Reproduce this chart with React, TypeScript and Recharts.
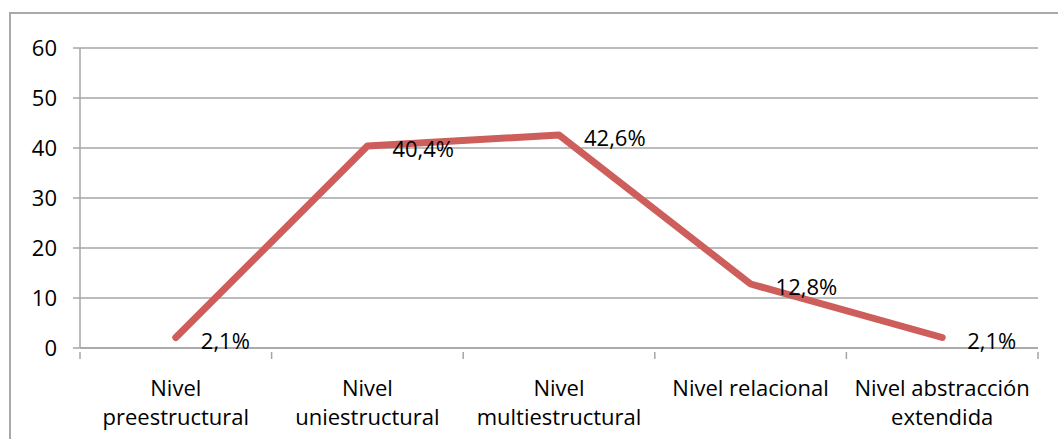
import { LineChart, Line, XAxis, YAxis, CartesianGrid, LabelList } from "recharts";

const niveles = [
  "Nivel preestructural",
  "Nivel uniestructural",
  "Nivel multiestructural",
  "Nivel relacional",
  "Nivel abstracción extendida",
];
// wrapped category labels, one array per category
const nivelLineas = [
  ["Nivel", "preestructural"],
  ["Nivel", "uniestructural"],
  ["Nivel", "multiestructural"],
  ["Nivel relacional"],
  ["Nivel abstracción", "extendida"],
];
const porcentajes = [2.1, 40.4, 42.6, 12.8, 2.1];
const yTicks = [0, 10, 20, 30, 40, 50, 60];

const FONT = "'Open Sans', sans-serif";
const GRID = "#a6a6a6";
const W = 1058;
const H = 439;
const M = { top: 48, right: 20, bottom: 11, left: 10 };
const Y_AXIS_W = 70;
// width of one category band along the x axis
const BAND = (W - M.left - M.right - Y_AXIS_W) / niveles.length;

const data = niveles.map((n, i) => ({ nivel: n, valor: porcentajes[i] }));

const fmtPct = (v: number) => `${v.toFixed(1).replace(".", ",")}%`;

function CategoryTick(props: any) {
  const { x, y, payload, index } = props;
  const idx = niveles.indexOf(payload.value);
  const lines = nivelLineas[idx] ?? [payload.value];
  const axisY = y - 2;
  const left = x - BAND / 2;
  const right = x + BAND / 2;
  return (
    <g>
      {/* tick marks sit on the band boundaries, labels in the band centre */}
      <line x1={left} x2={left} y1={axisY} y2={axisY + 7} stroke={GRID} strokeWidth={1.5} />
      {index === niveles.length - 1 && (
        <line x1={right} x2={right} y1={axisY} y2={axisY + 7} stroke={GRID} strokeWidth={1.5} />
      )}
      <text x={x} y={y} textAnchor="middle" fontFamily={FONT} fontSize={22} fill="#000">
        {lines.map((l, i) => (
          <tspan key={i} x={x} dy={i === 0 ? 42 : 29}>
            {l}
          </tspan>
        ))}
      </text>
    </g>
  );
}

function PointLabel(props: any) {
  const { x, y, value } = props;
  return (
    <text x={x + 25} y={y + 11} fontFamily={FONT} fontSize={22} fill="#000">
      {fmtPct(value)}
    </text>
  );
}

export default function App() {
  return (
    <div style={{ position: "fixed", left: 0, top: 0, width: W, height: H, background: "#fff", overflow: "hidden" }}>
      <div
        style={{
          position: "absolute",
          left: 9,
          top: 12,
          width: 1100,
          height: 500,
          borderLeft: "2px solid #a9a9a9",
          borderTop: "2px solid #a9a9a9",
        }}
      />
      <LineChart
        width={W}
        height={H}
        data={data}
        margin={M}
        style={{ position: "absolute", left: 0, top: 0 }}
      >
        <CartesianGrid vertical={false} stroke={GRID} strokeWidth={1.5} />
        <XAxis
          dataKey="nivel"
          interval={0}
          height={80}
          scale="band"
          stroke={GRID}
          strokeWidth={1.5}
          tickLine={false}
          tickMargin={0}
          tick={<CategoryTick />}
        />
        <YAxis
          domain={[0, 60]}
          ticks={yTicks}
          width={Y_AXIS_W}
          stroke={GRID}
          strokeWidth={1.5}
          tickSize={7}
          tickMargin={16}
          tick={{ fontFamily: FONT, fontSize: 22, fill: "#000" }}
        />
        <Line
          dataKey="valor"
          stroke="#cd5e5b"
          strokeWidth={7}
          strokeLinecap="round"
          strokeLinejoin="round"
          dot={false}
          isAnimationActive={false}
        >
          <LabelList dataKey="valor" content={<PointLabel />} />
        </Line>
      </LineChart>
    </div>
  );
}
